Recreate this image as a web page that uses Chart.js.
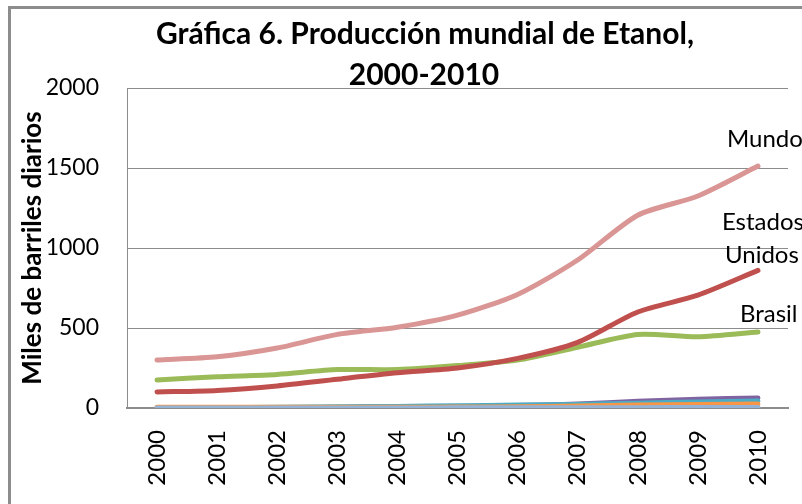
<!DOCTYPE html>
<html>
<head>
<meta charset="utf-8">
<script src="https://cdn.jsdelivr.net/npm/chart.js@4.4.1/dist/chart.umd.min.js"></script>
<style>
  body { margin: 0; background: #fff; }
  #frame { position: absolute; left: 8px; top: 6px; width: 900px; height: 600px;
           border-left: 3px solid #8c8c8c; border-top: 3px solid #8c8c8c; }
  #wrap { position: absolute; left: 0; top: 0; width: 802px; height: 504px; }
</style>
</head>
<body>
<div id="frame"></div>
<div id="wrap"><canvas id="chart" width="802" height="504"></canvas></div>
<script>
"use strict";

const years = ["2000", "2001", "2002", "2003", "2004", "2005", "2006", "2007", "2008", "2009", "2010"];
const mundo = [300, 320, 375, 460, 505, 580, 710, 925, 1205, 1325, 1512];
const eeuu = [100, 110, 138, 180, 220, 250, 310, 410, 600, 705, 860];
const brasil = [175, 195, 210, 240, 240, 265, 300, 380, 460, 445, 475];
const otro1 = [0, 0, 0, 2, 4, 8, 15, 25, 42, 55, 62];
const otro2 = [2, 3, 5, 8, 10, 14, 18, 22, 30, 38, 44];
const otro3 = [5, 5, 5, 5, 5, 6, 8, 12, 18, 22, 25];
const otro4 = [0, 0, 0, 0, 0, 1, 1, 2, 2, 3, 3];
const yTicks = [0, 500, 1000, 1500, 2000];
const titulo = ["Gráfica 6. Producción mundial de Etanol,", "2000-2010"];

const font = "Lato";

function line(label, data, color) {
  return {
    label: label,
    data: data,
    borderColor: color,
    backgroundColor: color,
    borderWidth: 5,
    borderCapStyle: "round",
    pointRadius: 0,
    tension: 0.25,
    fill: false
  };
}

// titulo de dos lineas, centrado como en el original
const tituloPlugin = {
  id: "tituloPlugin",
  afterDraw(chart) {
    const ctx = chart.ctx;
    ctx.save();
    ctx.font = "bold 30px " + font;
    ctx.fillStyle = "#000";
    ctx.textAlign = "center";
    ctx.textBaseline = "alphabetic";
    ctx.fillText(titulo[0], 425, 44);
    ctx.fillText(titulo[1], 424, 85);
    ctx.restore();
  }
};

// etiquetas junto al ultimo punto de cada serie
const endLabels = {
  id: "endLabels",
  afterDraw(chart) {
    const ctx = chart.ctx;
    const items = [
      { ds: 0, lines: [["Mundo", -31, -19]] },
      { ds: 1, lines: [["Estados", -36, -40], ["Unidos", -33, -7]] },
      { ds: 2, lines: [["Brasil", -18, -10]] }
    ];
    ctx.save();
    ctx.font = "24px " + font;
    ctx.fillStyle = "#000";
    ctx.textBaseline = "alphabetic";
    items.forEach(it => {
      const meta = chart.getDatasetMeta(it.ds);
      const pt = meta.data[meta.data.length - 1];
      it.lines.forEach(l => ctx.fillText(l[0], pt.x + l[1], pt.y + l[2]));
    });
    ctx.restore();
  }
};

new Chart("chart", {
  type: "line",
  data: {
    labels: years,
    datasets: [
      line("Mundo", mundo, "#d99694"),
      line("Estados Unidos", eeuu, "#c0504d"),
      line("Brasil", brasil, "#9bbb59"),
      line("Otro 4", otro4, "#95b3d7"),
      line("Otro 3", otro3, "#f79646"),
      line("Otro 2", otro2, "#4bacc6"),
      line("Otro 1", otro1, "#8064a2")
    ]
  },
  options: {
    responsive: false,
    animation: false,
    layout: { padding: { left: 14, right: 14, top: 88, bottom: 0 } },
    plugins: {
      legend: { display: false },
      tooltip: { enabled: false },
      title: { display: false }
    },
    scales: {
      x: {
        offset: true,
        grid: { display: false, drawTicks: false },
        border: { color: "#8c8c8c", width: 2 },
        ticks: {
          color: "#000",
          font: { family: font, size: 24 },
          minRotation: 90, maxRotation: 90,
          padding: 22
        },
        afterFit(scale) {
          scale.height = 96;
          scale.paddingLeft = 0;
          scale.paddingRight = 0;
        }
      },
      y: {
        min: 0, max: 2000,
        afterBuildTicks(scale) { scale.ticks = yTicks.map(v => ({ value: v })); },
        grid: { color: "#8c8c8c", lineWidth: 1, drawTicks: false },
        border: { color: "#8c8c8c", width: 1 },
        ticks: {
          color: "#000",
          font: { family: font, size: 23 },
          padding: 28,
          callback: v => String(v)
        },
        title: {
          display: true,
          text: "Miles de barriles diarios",
          color: "#000",
          font: { family: font, size: 26, weight: "bold" },
          padding: { top: 3, bottom: 0 }
        },
        afterFit(scale) {
          scale.width = 113;
          scale.paddingTop = 0;
          scale.paddingBottom = 0;
        }
      }
    }
  },
  plugins: [tituloPlugin, endLabels]
});
</script>
</body>
</html>
